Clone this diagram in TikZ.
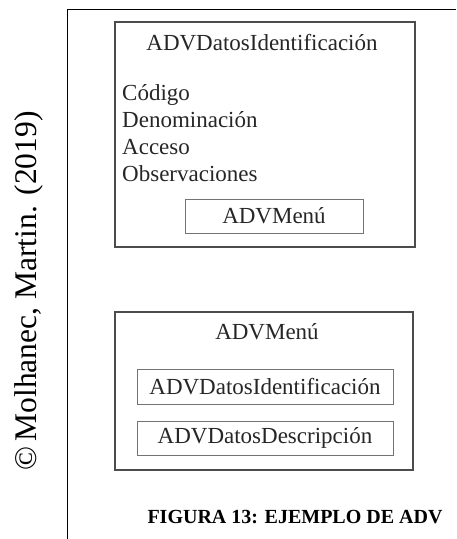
\documentclass[tikz,border=0pt]{standalone}
\usepackage{fontspec}
\setmainfont{Liberation Serif}
\begin{document}
\begin{tikzpicture}[x=1pt,y=-1pt,
  outerbox/.style={draw=black!70,line width=1.2pt,minimum width=#1,inner sep=0pt},
  innerbox/.style={draw=black!55,line width=0.9pt,inner sep=0pt,text=black!85,font=\fontsize{23}{26}\selectfont},
  boxtext/.style={inner sep=0pt,text=black!85,font=\fontsize{23}{26}\selectfont},
  item/.style={boxtext,anchor=west,text height=16pt,text depth=5pt}
]
\useasboundingbox (0,0) rectangle (456,539);
% frame lines
\coordinate (ftop) at (67,9);
\coordinate (fbot) at (67,539);
\coordinate (fright) at (456,9);
\draw[line width=0.8pt] (fbot) -- (ftop) -- (fright);
% rotated credit
\node[rotate=90,inner sep=0pt,font=\fontsize{31.5}{34}\selectfont] (credit) at (29,291) {©\,Molhanec, Martin. (2019)};
% box 1
\node[outerbox=300pt,minimum height=225pt] (b1) at (265,134.5) {};
\node[boxtext] (t1) at (262,43) {ADVDatosIdentificación};
\node[item] (i1) at (122,95) {Código};
\node[item] (i2) at (122,122) {Denominación};
\node[item] (i3) at (122,149) {Acceso};
\node[item] (i4) at (122,176) {Observaciones};
\node[innerbox,minimum width=178pt,minimum height=34pt] (m1) at (274,216) {ADVMenú};
% box 2
\node[outerbox=298pt,minimum height=158pt] (b2) at (264,391) {};
\node[boxtext] (t2) at (267,332) {ADVMenú};
\node[innerbox,minimum width=256pt,minimum height=35pt] (d1) at (265,386.5) {ADVDatosIdentificación};
\node[innerbox,minimum width=256pt,minimum height=34pt] (d2) at (265,438) {ADVDatosDescripción};
% caption
\node[inner sep=0pt,font=\bfseries\fontsize{20}{23}\selectfont] (cap) at (295,517) {FIGURA 13: EJEMPLO DE ADV};
\end{tikzpicture}
\end{document}
